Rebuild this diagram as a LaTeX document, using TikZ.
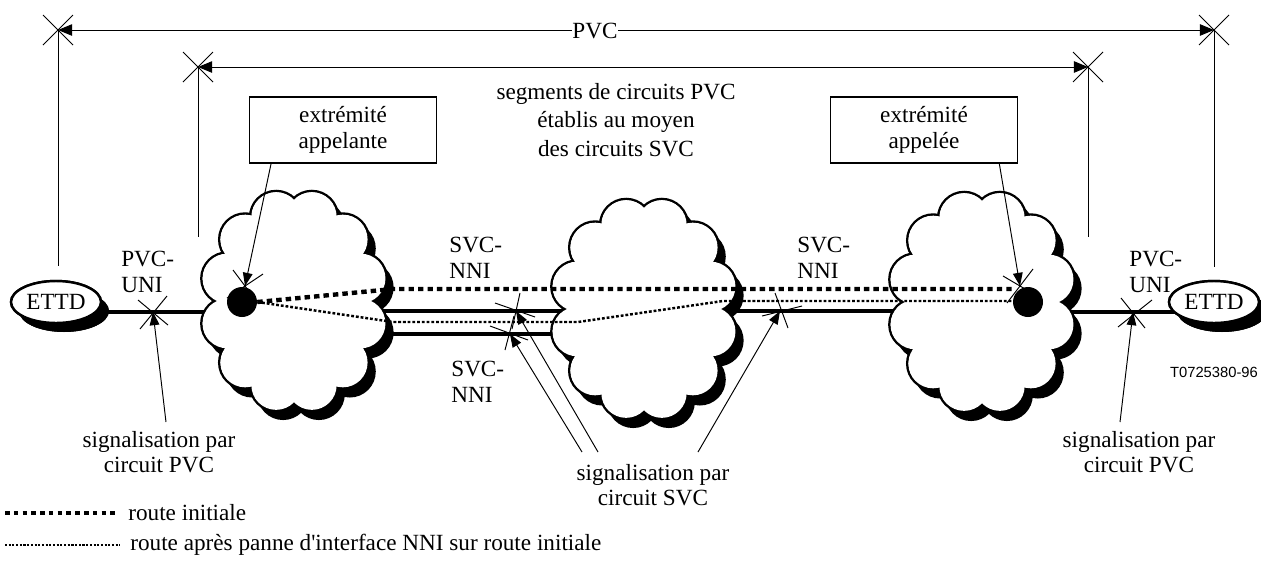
\documentclass[tikz,border=0pt]{standalone}
\usepackage{fontspec}
\setmainfont{Liberation Serif}
\newfontfamily\refsans{Liberation Sans}
\usetikzlibrary{positioning}
\usetikzlibrary{arrows.meta}
\usetikzlibrary{shapes.geometric}
\usetikzlibrary{shadows}

\begin{document}
\begin{tikzpicture}[x=0.02cm,y=-0.02cm,
		font=\fontsize{13.2}{14.5}\selectfont,
		dim/.style={line width=0.55pt},
		sig/.style={line width=0.55pt,-{Triangle[length=7.5pt,width=5.5pt]}},
		link/.style={line width=1.9pt},
		initial/.style={line width=2.5pt,dash pattern=on 3.1pt off 2.3pt},
		backup/.style={line width=1.4pt,dash pattern=on 1.6pt off 1.1pt},
		box/.style={draw,line width=0.6pt,minimum width=3.74cm,minimum height=1.32cm,align=center,inner sep=0pt},
		puffs/.pic={
			\begin{scope}[shift={(7,9)}]
				\foreach \a in {15,45,...,345} \fill (\a:69 and 87) circle (26);
				\fill (0,0) ellipse (72 and 90);
			\end{scope}
			\foreach \a in {15,45,...,345} \draw[line width=1.4pt] (\a:69 and 87) circle (26);
			\foreach \a in {15,45,...,345} \fill[white] (\a:69 and 87) circle (24.8);
			\fill[white] (0,0) ellipse (72 and 90);
		},
		ettd/.style={ellipse,draw,line width=1.4pt,fill=white,inner sep=0pt,minimum width=1.8cm,minimum height=0.84cm,
			drop shadow={shadow xshift=0.16cm,shadow yshift=-0.18cm,opacity=1,fill=black}},
		dot/.style={circle,fill=black,inner sep=0pt,minimum size=0.6cm},
		label/.style={align=left,anchor=west,inner sep=0pt}]
		\useasboundingbox (0,0) rectangle (1261,562);
		
		% cotes PVC
		\coordinate (pL) at (58,30);
		\coordinate (pR) at (1214,30);
		\coordinate (sL) at (198,67);
		\coordinate (sR) at (1088,67);
		\draw[dim,{Triangle[length=8pt,width=6.5pt]}-{Triangle[length=8pt,width=6.5pt]}] (pL) -- (pR);
		\draw[dim,{Triangle[length=8pt,width=6.5pt]}-{Triangle[length=8pt,width=6.5pt]}] (sL) -- (sR);
		\node[fill=white,inner sep=0.5pt] (pvc) at (595,31) {PVC};
		\draw[dim] (pL) -- ++(0,236);
		\draw[dim] (pR) -- ++(0,237);
		\draw[dim] (sL) -- ++(0,170);
		\draw[dim] (sR) -- ++(0,170);
		\draw[dim] (pL) +(-15,-15) -- +(15,15) +(-15,15) -- +(15,-15);
		\draw[dim] (pR) +(-15,-15) -- +(15,15) +(-15,15) -- +(15,-15);
		\draw[dim] (sL) +(-15,-15) -- +(15,15) +(-15,15) -- +(15,-15);
		\draw[dim] (sR) +(-15,-15) -- +(15,15) +(-15,15) -- +(15,-15);
		
		\node[box] (calling) at (343,130) {extrémité\\appelante};
		\node[box] (called) at (924,130) {extrémité\\appelée};
		\node[align=center,font=\fontsize{13.2}{16.4}\selectfont] (segs) at (616,120)
			{segments de circuits PVC\\établis au moyen\\des circuits SVC};
		
		% points d'interface
		\coordinate (uniA) at (153,312);
		\coordinate (uniB) at (1133,312);
		\coordinate (nniA) at (516,311);
		\coordinate (nniB) at (510,334);
		\coordinate (nniC) at (780,311);
		
		\coordinate (net1) at (294,301);
		\coordinate (net2) at (644,309);
		\coordinate (net3) at (982,302);
		
		\node[ettd] (ettdA) at (56,302) {ETTD};
		\node[ettd] (ettdB) at (1214,302) {ETTD};
		
		\draw[link] (ettdA |- uniA) -- (net1 |- uniA);
		\draw[link] (net1 |- nniA) -- (net2 |- nniA);
		\draw[link] (net1 |- nniB) -- (net2 |- nniB);
		\draw[link] (net2 |- nniC) -- (net3 |- nniC);
		\draw[link] (net3 |- uniB) -- (ettdB |- uniB);
		
		% nuages avec ombre
		\pic at (net1) {puffs};
		\pic at (net2) {puffs};
		\pic at (net3) {puffs};
		
		% ettd par-dessus les liens
		\node[ettd] at (56,302) {ETTD};
		\node[ettd] at (1214,302) {ETTD};
		
		\node[dot] (dot1) at (242,302) {};
		\node[dot] (dot3) at (1028,302) {};
		
		% routes
		\coordinate (a1) at (393,289);
		\coordinate (b1) at (393,322);
		\coordinate (b2) at (578,322);
		\coordinate (b3) at (723,301);
		\draw[initial] (dot1.east) -- (a1) -- (dot3.west |- a1);
		\draw[backup] (dot1.east) -- (b1) -- (b2) -- (b3) -- (dot3.west |- b3);
		
		% fleches vers les extremites
		\coordinate (t1) at (245,286);
		\coordinate (t3) at (1020,286);
		\draw[sig] (calling.-155) -- (t1);
		\draw[sig] (called.-24.5) -- (t3);
		\draw[dim] (t1) +(-12,-16) -- +(12,16) +(18,-12) -- +(-18,12);
		\draw[dim] (t3) +(-17,-10) -- +(17,10) +(13,-17) -- +(-13,17);
		
		% croix d'interface
		\draw[dim] (uniA) +(-15,-12) -- +(15,13) +(14,-16) -- +(-13,17);
		\draw[dim] (uniB) +(-12,-14) -- +(12,16) +(19,-12) -- +(-15,15);
		\draw[dim] (nniA) +(4,-18) -- +(-4,18) +(-21,-8) -- +(19,6);
		\draw[dim] (nniB) +(4,-18) -- +(-5,16) +(-20,-8) -- +(18,6);
		\draw[dim] (nniC) +(-5,-18) -- +(8,17) +(-18,5) -- +(22,-5);
		
		\node[label] (lblA) at (121,272) {PVC-\\UNI};
		\node[label] (lblB) at (1129,272) {PVC-\\UNI};
		\node[label] (lblC) at (449,258) {SVC-\\NNI};
		\node[label] (lblD) at (797,258) {SVC-\\NNI};
		\node[label] (lblE) at (451,382) {SVC-\\NNI};
		
		% signalisation
		\node[align=center] (sigA) at (159,452) {signalisation par\\circuit PVC};
		\node[align=center] (sigB) at (1139,452) {signalisation par\\circuit PVC};
		\node[align=center] (sigC) at (653,485) {signalisation par\\circuit SVC};
		\coordinate (fA) at (166,422);
		\coordinate (fB) at (1120,422);
		\coordinate (fC1) at (598,452);
		\coordinate (fC2) at (582,452);
		\coordinate (fC3) at (698,452);
		\draw[sig] (fA) -- (uniA);
		\draw[sig] (fB) -- (uniB);
		\draw[sig] (fC1) -- (nniA);
		\draw[sig] (fC2) -- (nniB);
		\draw[sig] (fC3) -- (nniC);
		
		\node[font=\refsans\fontsize{8.4}{10}\selectfont] (ref) at (1214,372) {T0725380-96};
		
		% legende
		\coordinate (kA) at (5,513);
		\coordinate (kB) at (5,545);
		\draw[line width=2.2pt,dash pattern=on 2.6pt off 2.4pt] (kA) -- ++(113,0);
		\draw[line width=1.2pt,dash pattern=on 1.2pt off 0.9pt] (kB) -- ++(115,0);
		\node[label] (keyA) at (128,513) {route initiale};
		\node[label] (keyB) at (130,545) {route après panne d\textquotesingle interface NNI sur route initiale};
	\end{tikzpicture}
\end{document}
